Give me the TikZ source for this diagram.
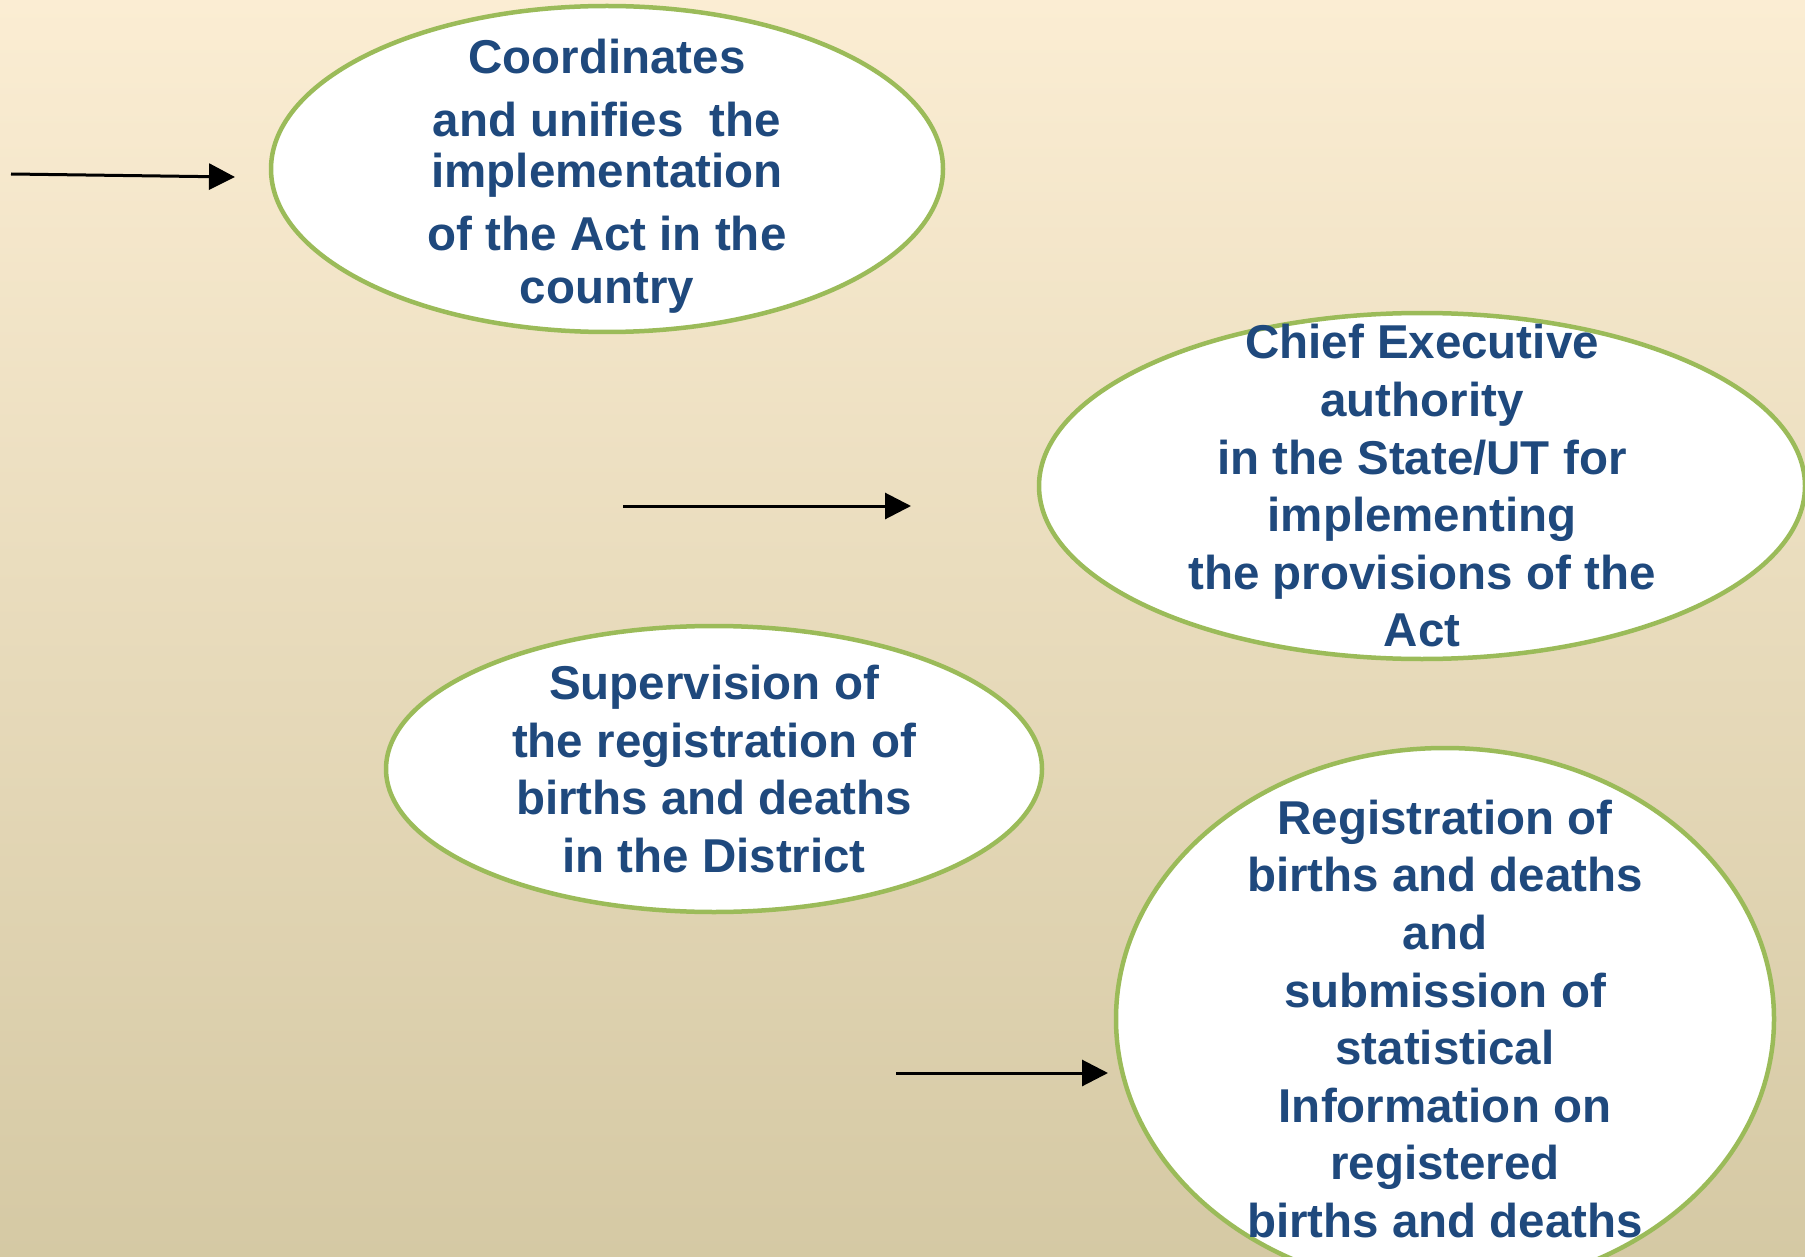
\documentclass[tikz,border=0pt]{standalone}
\usepackage{fontspec}
\setmainfont{Liberation Sans}
\usetikzlibrary{arrows.meta,shapes.geometric}
\definecolor{txtblue}{RGB}{31,73,125}
\definecolor{rimgreen}{RGB}{155,187,89}
\definecolor{bgtop}{RGB}{251,237,211}
\definecolor{bgmid}{RGB}{241,234,212}
\definecolor{bgbot}{RGB}{213,201,164}
\tikzset{
  bubble/.style={ellipse, draw=rimgreen, line width=4.5pt, fill=white, inner sep=0pt},
  bubbletext/.style={align=center, text=txtblue, font=\fontsize{47.5}{57.6}\selectfont\bfseries, inner sep=0pt},
  pointer/.style={draw=black, line width=3pt, -{Triangle[length=26pt,width=26pt]}}
}
\begin{document}
\begin{tikzpicture}[x=1pt,y=-1pt]
\useasboundingbox (0,0) rectangle (1805,1257);
\clip (0,0) rectangle (1805,1257);
\shade[top color=bgtop, middle color=bgmid, bottom color=bgbot] (0,0) rectangle (1805,1257);

\node[bubble, minimum width=672pt, minimum height=326pt] (e1) at (607,169) {};
\node[bubbletext, yshift=-7pt] (t1) at (e1.center) {Coordinates\\[5.7pt] and unifies\ \ the\\[-6.9pt] implementation\\[5.7pt] of the Act in the\\[-4.6pt] country};

\node[bubble, minimum width=766pt, minimum height=346pt] (e2) at (1422,486) {};
\node[bubbletext] (t2) at (e2.center) {Chief Executive\\ authority\\ in the State/UT for\\ implementing\\ the provisions of the\\ Act};

\node[bubble, minimum width=656pt, minimum height=286pt] (e3) at (714,769) {};
\node[bubbletext] (t3) at (e3.center) {Supervision of\\ the registration of\\ births and deaths\\ in the District};

\node[bubble, minimum width=658pt, minimum height=542pt] (e4) at (1445,1019) {};
\node[bubbletext] (t4) at (e4.center) {Registration of\\ births and deaths\\ and\\ submission of\\ statistical\\ Information on\\ registered\\ births and deaths};

\coordinate (a1s) at (11,174);
\coordinate (a1e) at (235,177);
\coordinate (a2s) at (623,506);
\coordinate (a2e) at (911,506);
\coordinate (a3s) at (896,1073);
\coordinate (a3e) at (1108,1073);
\draw[pointer] (a1s) -- (a1e);
\draw[pointer] (a2s) -- (a2e);
\draw[pointer] (a3s) -- (a3e);
\end{tikzpicture}
\end{document}
